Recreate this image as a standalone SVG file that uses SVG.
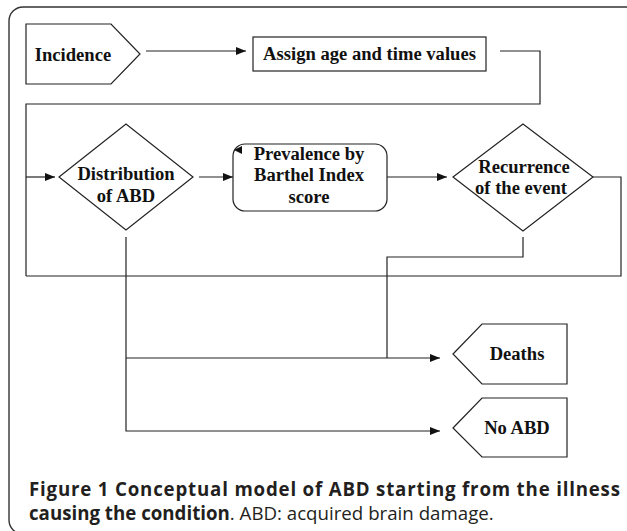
<svg xmlns="http://www.w3.org/2000/svg" width="627" height="531" viewBox="0 0 627 531">
<style>
.shape{fill:#fff;stroke:#222;stroke-width:1.2}
.conn{fill:none;stroke:#222;stroke-width:1.2}
.lbl{font-family:"Liberation Serif","Times New Roman",serif;font-weight:bold;font-size:18.6px;fill:#111;text-anchor:middle}
.cap{font-family:"Open Sans","Noto Sans",sans-serif;font-size:18.7px;fill:#231f20}
</style>
<defs>
<marker id="ah" viewBox="0 0 10 8" refX="10" refY="4" markerWidth="10" markerHeight="8" markerUnits="userSpaceOnUse" orient="auto">
<path d="M0,0 L10,4 L0,8 Z" fill="#111"/>
</marker>
</defs>
<rect x="0" y="0" width="627" height="531" fill="#fff"/>
<rect x="9" y="7" width="632" height="527" rx="14" ry="14" fill="none" stroke="#333" stroke-width="1.4"/>
<g id="connectors">
<line class="conn" x1="146" y1="51" x2="246" y2="51" marker-end="url(#ah)"/>
<polyline class="conn" points="500,51 540,51 540,104 26,104 26,276"/>
<line class="conn" x1="26" y1="177" x2="55" y2="177" marker-end="url(#ah)"/>
<polyline class="conn" points="593,177 621,177 621,276 26,276"/>
<line class="conn" x1="199" y1="177" x2="233" y2="177" marker-end="url(#ah)"/>
<line class="conn" x1="387" y1="177" x2="447" y2="177" marker-end="url(#ah)"/>
<polyline class="conn" points="523,237 523,257 387,257 387,358"/>
<polyline class="conn" points="126,237 126,431 440,431" marker-end="url(#ah)"/>
<line class="conn" x1="126" y1="358" x2="440" y2="358" marker-end="url(#ah)"/>
</g>
<g id="incidence">
<polygon class="shape" points="26,24 111,24 140,54 111,84 26,84"/>
<text class="lbl" x="73" y="61">Incidence</text>
</g>
<g id="assign">
<rect class="shape" x="253" y="37" width="233" height="34"/>
<text class="lbl" x="369.5" y="60">Assign age and time values</text>
</g>
<g id="distribution">
<polygon class="shape" points="59,177 126,124 193,177 126,230"/>
<text class="lbl" x="126" y="180">Distribution</text>
<text class="lbl" x="126" y="202">of ABD</text>
</g>
<g id="prevalence">
<rect class="shape" x="233" y="144" width="154" height="67" rx="12" ry="12"/>
<path d="M234,150 L242,146 L242,154 Z" fill="#111"/>
<text class="lbl" x="309" y="160">Prevalence by</text>
<text class="lbl" x="309" y="181">Barthel Index</text>
<text class="lbl" x="309" y="203">score</text>
</g>
<g id="recurrence">
<polygon class="shape" points="453,177 523,124 593,177 523,231"/>
<text class="lbl" x="524" y="173">Recurrence</text>
<text class="lbl" x="521" y="194">of the event</text>
</g>
<g id="deaths">
<polygon class="shape" points="453,354 482,324 567,324 567,384 482,384"/>
<text class="lbl" x="517" y="360">Deaths</text>
</g>
<g id="noabd">
<polygon class="shape" points="453,428 482,398 567,398 567,457 482,457"/>
<text class="lbl" x="517" y="434">No ABD</text>
</g>
<g id="caption">
<text class="cap" x="29" y="496" font-weight="bold" textLength="591" lengthAdjust="spacing">Figure 1 Conceptual model of ABD starting from the illness</text>
<text class="cap" x="29" y="520"><tspan font-weight="bold">causing the condition</tspan>. ABD: acquired brain damage.</text>
</g>
</svg>
